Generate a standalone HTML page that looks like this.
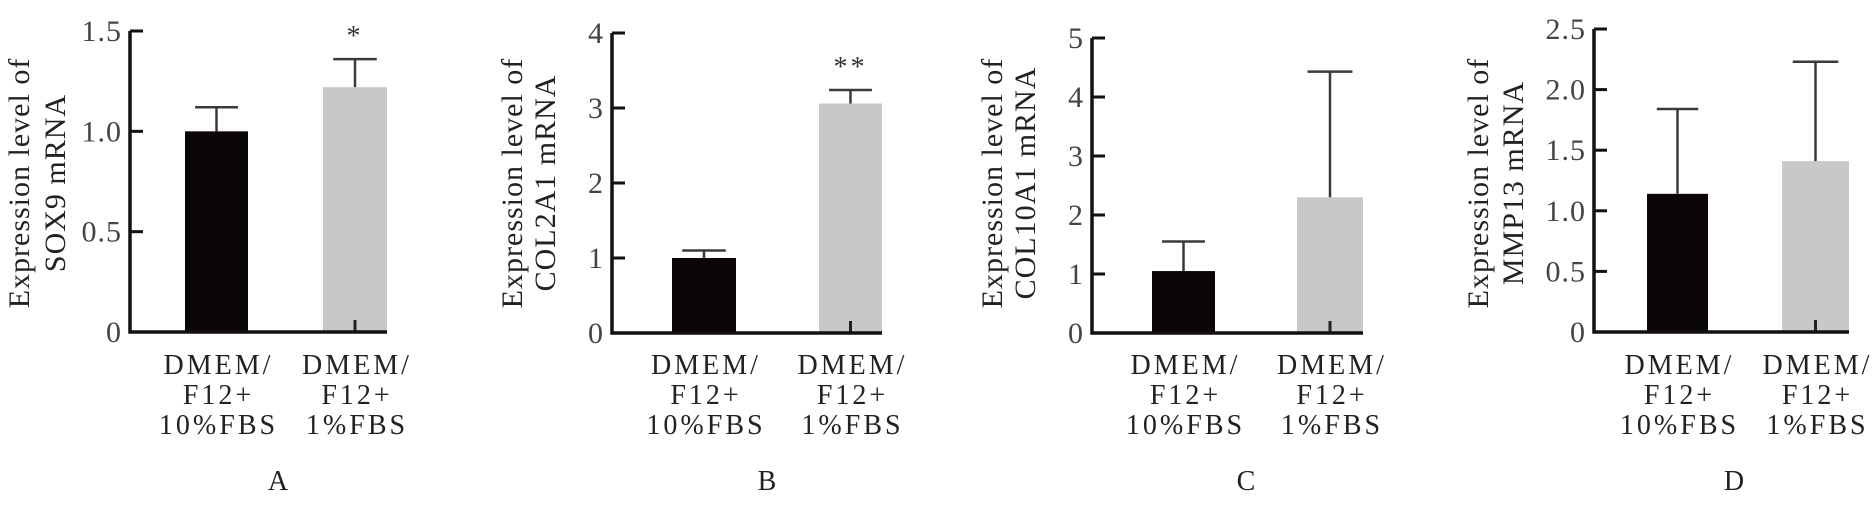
<!DOCTYPE html>
<html><head><meta charset="utf-8">
<style>
html,body{margin:0;padding:0;background:#fff;}
svg{display:block;}
text{font-family:"Liberation Serif",serif;}
</style></head>
<body>
<svg id="chart" width="1876" height="506" viewBox="0 0 1876 506" xmlns="http://www.w3.org/2000/svg"></svg>
<script>
const categories = ["DMEM/|F12+|10%FBS", "DMEM/|F12+|1%FBS"];
const panelLetters = ["A", "B", "C", "D"];
const genes = ["SOX9", "COL2A1", "COL10A1", "MMP13"];
const meansA = [1.0, 1.22];
const errsA = [1.12, 1.36];
const meansB = [1.0, 3.06];
const errsB = [1.1, 3.24];
const meansC = [1.05, 2.3];
const errsC = [1.55, 4.43];
const meansD = [1.14, 1.41];
const errsD = [1.84, 2.23];
const ticksA = ["0", "0.5", "1.0", "1.5"];
const ticksB = ["0", "1", "2", "3", "4"];
const ticksC = ["0", "1", "2", "3", "4", "5"];
const ticksD = ["0", "0.5", "1.0", "1.5", "2.0", "2.5"];
const sigA = ["", "*"];
const sigB = ["", "**"];
const sigC = ["", ""];
const sigD = ["", ""];

const panels = [
  {means: meansA, errs: errsA, ticks: ticksA, sig: sigA, ax: 130, right: 387, y0: 332, yTop: 31, bars: [[185,248],[323,387]], lab: [19,55], letterX: 278},
  {means: meansB, errs: errsB, ticks: ticksB, sig: sigB, ax: 612, right: 882, y0: 333, yTop: 33, bars: [[672,736],[819,882]], lab: [512,545], letterX: 767},
  {means: meansC, errs: errsC, ticks: ticksC, sig: sigC, ax: 1092, right: 1363, y0: 333, yTop: 38, bars: [[1152,1215],[1297,1363]], lab: [992,1025], letterX: 1246},
  {means: meansD, errs: errsD, ticks: ticksD, sig: sigD, ax: 1594, right: 1849, y0: 332, yTop: 29, bars: [[1647,1708],[1782,1849]], lab: [1478,1513], letterX: 1734}
];
const NS = "http://www.w3.org/2000/svg";
const svg = document.getElementById("chart");
function mk(tag, attrs, parent){
  const e = document.createElementNS(NS, tag);
  for (const k in attrs) e.setAttribute(k, attrs[k]);
  (parent||svg).appendChild(e);
  return e;
}
const barColors = ["#0a0706", "#c8c8cb"];
panels.forEach((p, pi) => {
  const g = mk("g", {});
  
  
  const maxV = parseFloat(p.ticks[p.ticks.length-1]);
  const yScale = v => p.y0 - (v / maxV) * (p.y0 - p.yTop);
  p.means.forEach((m, i) => {
    const [x1, x2] = p.bars[i];
    const cx = (x1 + x2) / 2;
    const r = mk("rect", {x: x1, y: yScale(m), width: x2 - x1, height: p.y0 - yScale(m), fill: barColors[i]}, g);
    
    
    const ey = yScale(p.errs[i]);
    const capW = (x2 - x1) * 0.34;
    const eb = mk("path", {d: `M${cx},${yScale(m)} V${ey} M${cx-capW},${ey} H${cx+capW}`, stroke: "#3a3a3a", "stroke-width": 2.5, fill: "none"}, g);
    
    
    if (i === 1) {
      const sm = mk("line", {x1: cx, x2: cx, y1: p.y0, y2: p.y0 - 12, stroke: "#222", "stroke-width": 3}, g);
      
      
    }
    if (p.sig[i]) {
      const s = mk("text", {x: cx, y: ey - 14, "text-anchor": "middle", "font-size": 28, fill: "#333", "letter-spacing": 3}, g);
      s.textContent = p.sig[i];
      
      
    }
    categories[i].split("|").forEach((ln, li) => {
      const t = mk("text", {x: cx + 2, y: 374 + li * 30, "text-anchor": "middle", "font-size": 28, fill: "#222", "letter-spacing": 3}, g);
      t.textContent = ln;
      
      
    });
  });
  const axis = mk("path", {d: `M${p.ax},${p.yTop} V${p.y0} H${p.right}`, stroke: "#111", "stroke-width": 3.5, fill: "none"}, g);
  
  
  p.ticks.forEach(tl => {
    const y = yScale(parseFloat(tl));
    const tk = mk("line", {x1: p.ax, x2: p.ax + 13, y1: y, y2: y, stroke: "#111", "stroke-width": 3}, g);
    
    
    const t = mk("text", {x: p.ax - 8, y: y + 10, "text-anchor": "end", "font-size": 30, fill: "#444", "letter-spacing": 1}, g);
    t.textContent = tl;
    
    
  });
  const lines = ["Expression level of", genes[pi] + " mRNA"];
  lines.forEach((ln, li) => {
    const x = p.lab[li] + 10;
    const t = mk("text", {x: x, y: 183, transform: `rotate(-90 ${x} 183)`, "text-anchor": "middle", "font-size": 30, fill: "#222", "letter-spacing": 1}, g);
    t.textContent = ln;
    
    
  });
  const L = mk("text", {x: p.letterX, y: 490, "text-anchor": "middle", "font-size": 28, fill: "#222"}, g);
  L.textContent = panelLetters[pi];
  
  
});
</script>
</body></html>
